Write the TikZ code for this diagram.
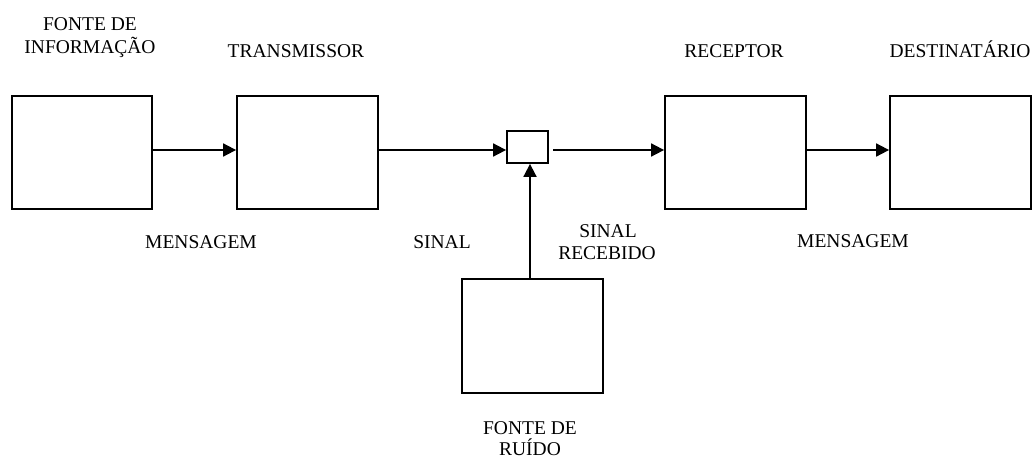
\documentclass[tikz,border=0pt]{standalone}
\usepackage{fontspec}
\setmainfont{Liberation Serif}
\usetikzlibrary{arrows.meta}
\begin{document}
\begin{tikzpicture}[x=1pt,y=-1pt,
  blk/.style={draw,line width=1.8pt,minimum width=#1,inner sep=0pt},
  lbl/.style={anchor=base,inner sep=0pt,font=\fontsize{19.5}{23}\selectfont},
  arr/.style={line width=1.8pt,-{Triangle[length=13pt,width=13pt]}}]
\useasboundingbox (0,0) rectangle (1034,458);
% boxes
\node[blk=140pt,minimum height=113pt] (b1) at (82,152.5) {};
\node[blk=141pt,minimum height=113pt] (b2) at (307.5,152.5) {};
\node[blk=41pt,minimum height=32pt] (sm) at (527.5,147) {};
\node[blk=141pt,minimum height=113pt] (b3) at (735.5,152.5) {};
\node[blk=141pt,minimum height=113pt] (b4) at (960.5,152.5) {};
\node[blk=141pt,minimum height=114pt] (ns) at (532.5,336) {};
% helper coordinates
\coordinate (ay) at (0,150);
\coordinate (vx) at (530,0);
\coordinate (st) at (553,150);
% connectors
\draw[arr] (b1.east |- ay) -- (b2.west |- ay);
\draw[arr] (b2.east |- ay) -- (sm.west |- ay);
\draw[arr] (st) -- (b3.west |- ay);
\draw[arr] (b3.east |- ay) -- (b4.west |- ay);
\draw[arr] (ns.north -| vx) -- (sm.south -| vx);
% labels
\node[lbl] (t1a) at (90,30) {FONTE DE};
\node[lbl] (t1b) at (90,53) {INFORMAÇÃO};
\node[lbl] (t2) at (296,57) {TRANSMISSOR};
\node[lbl] (t3) at (734,57) {RECEPTOR};
\node[lbl] (t4) at (960,57) {DESTINATÁRIO};
\node[lbl] (m1) at (201,248) {MENSAGEM};
\node[lbl] (s1) at (442,248) {SINAL};
\node[lbl] (r1a) at (608,237) {SINAL};
\node[lbl] (r1b) at (607,259) {RECEBIDO};
\node[lbl] (m2) at (853,247) {MENSAGEM};
\node[lbl] (n1a) at (530,434) {FONTE DE};
\node[lbl] (n1b) at (530,455) {RUÍDO};
\end{tikzpicture}
\end{document}
